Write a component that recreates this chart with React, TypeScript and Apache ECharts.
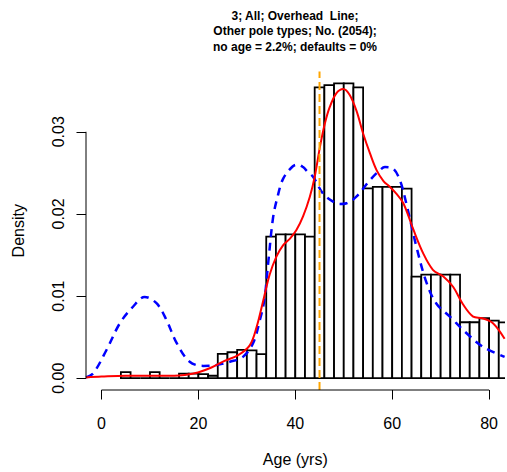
import React, { useEffect, useRef } from "react";
import * as echarts from "echarts";

const titleLines = ["3; All; Overhead  Line;", "Other pole types; No. (2054);", "no age = 2.2%; defaults = 0%"];
const xTicks = [0, 20, 40, 60, 80];
const yTicks = [0, 0.01, 0.02, 0.03];
const binWidth = 2;
const binStarts = [4, 6, 8, 10, 12, 14, 16, 18, 20, 22, 24, 26, 28, 30, 32, 34, 36, 38, 40, 42, 44, 46, 48, 50, 52, 54, 56, 58, 60, 62, 64, 66, 68, 70, 72, 74, 76, 78, 80, 82];
const binDensity = [0.00075, 0, 0, 0.00075, 0, 0, 0.00056, 0.00056, 0.0005, 0.0003, 0.00296, 0.00316, 0.00344, 0.0034, 0.00292, 0.01723, 0.01752, 0.01752, 0.01752, 0.01723, 0.0354, 0.03568, 0.0359, 0.0359, 0.0354, 0.02311, 0.0233, 0.0233, 0.0233, 0.02307, 0.01236, 0.0126, 0.0126, 0.0126, 0.0126, 0.00681, 0.00681, 0.0073, 0.007, 0.0068];

const redX = [-3.2, 0, 5, 10, 15, 17.2, 19.9, 22.7, 25.4, 28.2, 30.6, 32.0, 33.4, 34.7, 36.1, 37.5, 38.9, 40.2, 41.6, 43.0, 44.0, 45.1, 46.1, 47.1, 48.5, 49.9, 51.2, 52.6, 54.0, 55.4, 56.8, 58.2, 59.5, 60.8, 62.3, 64.3, 66.4, 68.4, 70.5, 72.6, 74.6, 76.7, 78.6, 80.8, 83.2];
const redY = [0.0001, 0.0002, 0.0003, 0.0003, 0.0003, 0.0004, 0.0007, 0.0013, 0.0021, 0.0028, 0.004, 0.0062, 0.0095, 0.0126, 0.0148, 0.0162, 0.017, 0.018, 0.0197, 0.0221, 0.0245, 0.0282, 0.031, 0.033, 0.0347, 0.0352, 0.0345, 0.0326, 0.0298, 0.0274, 0.0253, 0.024, 0.0233, 0.0225, 0.0213, 0.0182, 0.0152, 0.0132, 0.0124, 0.0111, 0.009, 0.0075, 0.0073, 0.0067, 0.0048];

const blueX = [-3.2, -1.7, 1.0, 3.8, 6.5, 8.9, 11.4, 13.4, 15.5, 18.2, 21.0, 23.7, 26.5, 29.2, 31.3, 32.7, 33.6, 34.4, 35.4, 36.3, 37.5, 39.5, 40.6, 41.6, 42.6, 43.7, 45.7, 47.8, 49.2, 50.6, 52.6, 55.4, 57.4, 58.5, 60.2, 61.6, 62.9, 65.0, 67.1, 69.1, 71.9, 75.3, 78.8, 83.2];
const blueY = [0.0001, 0.0006, 0.0034, 0.0067, 0.0087, 0.0099, 0.0091, 0.0071, 0.0043, 0.002, 0.0015, 0.0016, 0.002, 0.0026, 0.0043, 0.0071, 0.0095, 0.014, 0.0195, 0.022, 0.0243, 0.0258, 0.026, 0.0257, 0.0251, 0.0245, 0.0225, 0.0215, 0.0212, 0.0213, 0.0221, 0.0241, 0.0253, 0.0257, 0.0255, 0.0241, 0.0213, 0.016, 0.0116, 0.0091, 0.0075, 0.0055, 0.0038, 0.0026];

const refAge = 45;
const xMin = -3.2;
const xMax = 83.2;
const yMin = -0.001436;
const yMax = 0.03734;

const FONT = "'Liberation Sans', Arial, Helvetica, sans-serif";

export default function App() {
  const ref = useRef<HTMLDivElement>(null);
  useEffect(() => {
    if (!ref.current) return;
    const chart = echarts.init(ref.current, undefined, { renderer: "svg" });
    const bars = binStarts.map((s, i) => [s, s + binWidth, binDensity[i]]);
    chart.setOption({
      animation: false,
      backgroundColor: "#ffffff",
      textStyle: { fontFamily: FONT },
      graphic: [
        {
          type: "text",
          x: 295,
          y: 8,
          style: {
            text: titleLines.join("\n"),
            fontFamily: FONT,
            fontWeight: "bold",
            fontSize: 12,
            lineHeight: 15.5,
            fill: "#000",
            align: "center",
            verticalAlign: "top",
          },
        },
      ],
      grid: { left: 86, top: 71.5, width: 418.6, height: 318.5, containLabel: false, outerBoundsMode: "none" },
      xAxis: {
        type: "value",
        min: xMin,
        max: xMax,
        splitLine: { show: false },
        axisLine: { show: false, onZero: false },
        axisTick: { show: true, inside: false, customValues: xTicks, length: 9.5, lineStyle: { color: "#000", width: 1 } },
        axisLabel: { customValues: xTicks, margin: 25, fontSize: 16, color: "#000", fontFamily: FONT },
        name: "Age (yrs)",
        nameLocation: "middle",
        nameGap: 61,
        nameTextStyle: { fontSize: 16, color: "#000", fontFamily: FONT },
      },
      yAxis: {
        type: "value",
        min: yMin,
        max: yMax,
        splitLine: { show: false },
        axisLine: { show: false, onZero: false },
        axisTick: { show: true, inside: false, customValues: yTicks, length: 9.5, lineStyle: { color: "#000", width: 1 } },
        axisLabel: {
          customValues: yTicks,
          rotate: 90,
          margin: 20,
          fontSize: 16,
          color: "#000",
          fontFamily: FONT,
          formatter: (v: number) => v.toFixed(2),
        },
        name: "Density",
        nameLocation: "middle",
        nameGap: 60,
        nameTextStyle: { fontSize: 16, color: "#000", fontFamily: FONT },
      },
      series: [
        {
          type: "custom",
          clip: true,
          data: bars,
          renderItem: (params: any, api: any) => {
            const p0 = api.coord([api.value(0), api.value(2)]);
            const p1 = api.coord([api.value(1), 0]);
            return {
              type: "rect",
              shape: { x: p0[0], y: p0[1], width: p1[0] - p0[0], height: p1[1] - p0[1] },
              style: { fill: "#ffffff", stroke: "#000000", lineWidth: 1.8 },
            };
          },
        },
        {
          type: "line",
          data: blueX.map((x, i) => [x, blueY[i]]),
          smooth: 0.35,
          showSymbol: false,
          clip: true,
          lineStyle: { color: "#0000FF", width: 2.5, type: [8, 6] },
        },
        {
          type: "line",
          data: redX.map((x, i) => [x, redY[i]]),
          smooth: 0.35,
          showSymbol: false,
          clip: true,
          lineStyle: { color: "#FF0000", width: 2 },
        },
        {
          type: "line",
          data: [[refAge, yMin], [refAge, yMax]],
          showSymbol: false,
          clip: false,
          lineStyle: { color: "#FFA500", width: 2, type: [8, 4] },
        },
        {
          type: "line",
          data: [[xTicks[0], yMin], [xTicks[xTicks.length - 1], yMin]],
          showSymbol: false,
          clip: false,
          lineStyle: { color: "#000", width: 1 },
        },
        {
          type: "line",
          data: [[xMin, yTicks[0]], [xMin, yTicks[yTicks.length - 1]]],
          showSymbol: false,
          clip: false,
          lineStyle: { color: "#000", width: 1 },
        },
      ],
    });
    return () => chart.dispose();
  }, []);
  return <div ref={ref} style={{ position: "fixed", left: 0, top: 0, width: 507, height: 472 }} />;
}
